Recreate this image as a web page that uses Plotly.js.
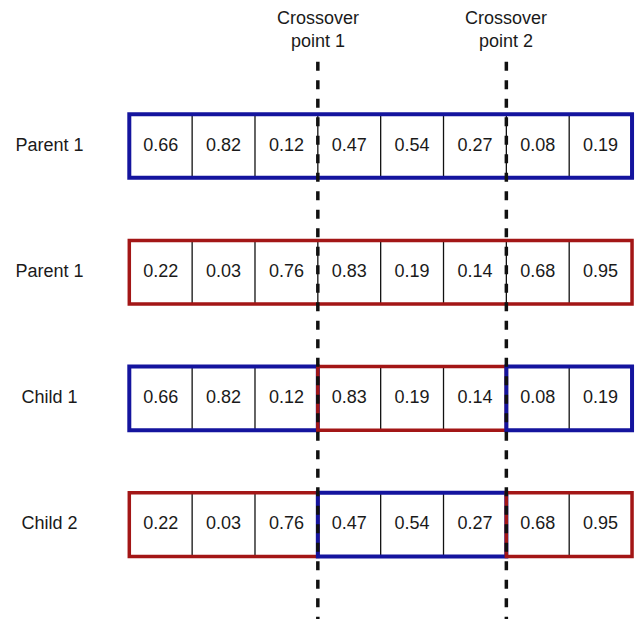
<!DOCTYPE html>
<html>
<head>
<meta charset="utf-8">
<script src="https://cdn.plot.ly/plotly-3.0.1.min.js"></script>
<style>html,body{margin:0;padding:0;background:#fff;}#chart{width:637px;height:619px;}</style>
</head>
<body>
<div id="chart"></div>
<script>
// ---- data ----
const rowLabels = ["Parent 1", "Parent 1", "Child 1", "Child 2"];
const parent1 = [0.66, 0.82, 0.12, 0.47, 0.54, 0.27, 0.08, 0.19];
const parent2 = [0.22, 0.03, 0.76, 0.83, 0.19, 0.14, 0.68, 0.95];
const child1  = [0.66, 0.82, 0.12, 0.83, 0.19, 0.14, 0.08, 0.19];
const child2  = [0.22, 0.03, 0.76, 0.47, 0.54, 0.27, 0.68, 0.95];
// which parent each gene came from (A = blue parent, B = red parent)
const src1 = ["A","A","A","A","A","A","A","A"];
const src2 = ["B","B","B","B","B","B","B","B"];
const srcC1 = ["A","A","A","B","B","B","A","A"];
const srcC2 = ["B","B","B","A","A","A","B","B"];
const crossoverPoints = [3, 6];
const crossoverLabels = ["Crossover<br>point 1", "Crossover<br>point 2"];

const rows = [parent1, parent2, child1, child2];
const sources = [src1, src2, srcC1, srcC2];

// ---- styling ----
const srcColor = {A: "#14149e", B: "#a31616"};
const srcWidth = {A: 4, B: 3.5};
const halfH = 0.252;
const FONT = "Liberation Sans, Arial, sans-serif";

const shapes = [];
const traces = [];

rows.forEach((vals, r) => {
  // cell dividers
  for (let i = 1; i < vals.length; i++) {
    shapes.push({type: "line", xref: "x", yref: "y", x0: i, x1: i, y0: r - halfH, y1: r + halfH,
      line: {color: "#111", width: 1.3}});
  }
  // outer borders by source segment
  const s = sources[r];
  let start = 0;
  for (let i = 1; i <= s.length; i++) {
    if (i === s.length || s[i] !== s[start]) {
      shapes.push({type: "rect", xref: "x", yref: "y", x0: start, x1: i, y0: r - halfH, y1: r + halfH,
        line: {color: srcColor[s[start]], width: srcWidth[s[start]]}, fillcolor: "rgba(0,0,0,0)"});
      start = i;
    }
  }
  traces.push({
    type: "scatter", mode: "text",
    x: vals.map((v, i) => i + 0.5),
    y: vals.map(() => r),
    text: vals.map(v => v.toFixed(2)),
    textfont: {family: FONT, size: 18, color: "#1a1a1a"},
    hoverinfo: "skip", showlegend: false
  });
});

// row labels
traces.push({
  type: "scatter", mode: "text",
  x: rowLabels.map(() => -1.27),
  y: rowLabels.map((l, i) => i),
  text: rowLabels,
  textfont: {family: FONT, size: 18, color: "#1a1a1a"},
  hoverinfo: "skip", showlegend: false
});

// crossover dashed lines
crossoverPoints.forEach(p => {
  shapes.push({type: "line", xref: "x", yref: "y", x0: p, x1: p, y0: -0.668, y1: 3.8,
    line: {color: "#111", width: 3.5, dash: "9px,9.5px"}, layer: "above"});
});

const annotations = crossoverPoints.map((p, k) => ({
  x: p, y: -0.927, xref: "x", yref: "y", text: crossoverLabels[k], showarrow: false,
  font: {family: FONT, size: 18, color: "#1a1a1a"}, align: "center"
}));

const layout = {
  width: 637, height: 619,
  margin: {l: 0, r: 0, t: 0, b: 0},
  paper_bgcolor: "#fff", plot_bgcolor: "#fff",
  xaxis: {range: [-2.0576, 8.079], visible: false, showgrid: false, zeroline: false, fixedrange: true},
  yaxis: {range: [3.748, -1.157], autorange: false, visible: false, showgrid: false, zeroline: false, fixedrange: true},
  shapes: shapes,
  annotations: annotations,
  showlegend: false
};

Plotly.newPlot("chart", traces, layout, {displayModeBar: false, staticPlot: true});
</script>
</body>
</html>
